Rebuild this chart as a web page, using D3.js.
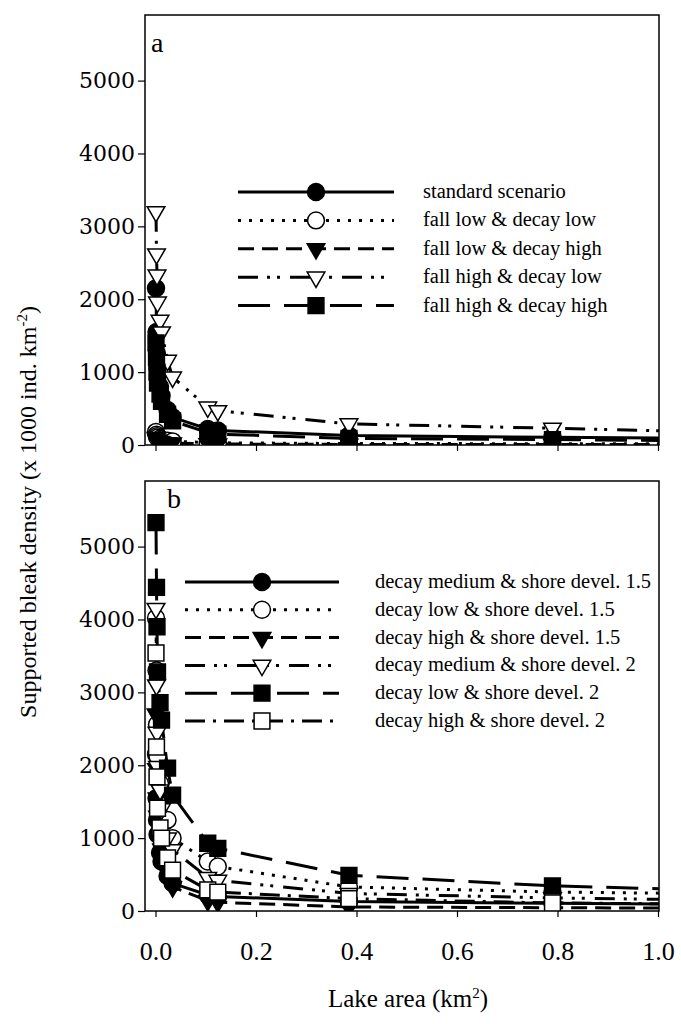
<!DOCTYPE html>
<html>
<head>
<meta charset="utf-8">
<script src="https://cdn.jsdelivr.net/npm/d3@7"></script>
<style>
body { margin: 0; background: #fff; }
</style>
</head>
<body>
<svg id="chart" width="681" height="1024"></svg>
<script>
// lake area (km2), same lakes in every scenario; the last one lies past the axis end
var lakeArea = [0.001, 0.002, 0.003, 0.004, 0.009, 0.012, 0.024, 0.034, 0.104, 0.124, 0.385, 0.79, 1.3];

// panel a
var namesA = ['standard scenario', 'fall low & decay low', 'fall low & decay high', 'fall high & decay low', 'fall high & decay high'];
var standard       = [2150, 1550, 1250, 1050, 800, 680, 480, 380, 220, 200, 130, 105, 80];
var fallLowDecLow  = [180, 140, 120, 100, 85, 75, 60, 50, 35, 30, 20, 18, 14];
var fallLowDecHigh = [100, 80, 65, 55, 45, 40, 30, 25, 15, 13, 8, 7, 5];
var fallHighDecLow = [3200, 2620, 2330, 1960, 1710, 1550, 1160, 930, 520, 470, 290, 230, 145];
var fallHighDecHigh= [1400, 1200, 1000, 850, 700, 600, 420, 330, 170, 150, 90, 75, 45];

// panel b
var namesB = ['decay medium & shore devel. 1.5', 'decay low & shore devel. 1.5', 'decay high & shore devel. 1.5',
              'decay medium & shore devel. 2', 'decay low & shore devel. 2', 'decay high & shore devel. 2'];
var decMedShore15  = [2150, 1550, 1250, 1050, 800, 680, 480, 380, 220, 200, 130, 105, 80];
var decLowShore15  = [4020, 3300, 2560, 2120, 1750, 1550, 1250, 1000, 680, 610, 330, 260, 224];
var decHighShore15 = [2700, 1950, 1550, 1300, 1000, 850, 520, 330, 140, 120, 55, 45, 33];
var decMedShore2   = [4150, 3100, 2450, 1980, 1660, 1400, 1000, 840, 460, 420, 240, 180, 131];
var decLowShore2   = [5330, 4440, 3900, 3280, 2860, 2620, 1960, 1590, 930, 860, 490, 345, 248];
var decHighShore2  = [3540, 2250, 1840, 1410, 1140, 1000, 730, 560, 290, 260, 170, 110, 85];

var xTicks = [0, 0.2, 0.4, 0.6, 0.8, 1.0];
var yTicks = [0, 1000, 2000, 3000, 4000, 5000];

// line styles and markers per legend row
var dashA = ['', '3,8', '16,8', '20,9,3,7,3,10', '32,14'];
var markA = ['circleF', 'circleO', 'triF', 'triO', 'sqF'];
var dashB = ['', '3,8', '16,8', '20,9,3,7,3,10', '32,14', '20,8,3,8'];
var markB = ['circleF', 'circleO', 'triF', 'triO', 'sqF', 'sqO'];

var serif = '"Liberation Serif", "Times New Roman", serif';

var svg = d3.select('#chart');

var xScale = d3.scaleLinear().domain([0, 1]).range([155.5, 658]);
var left = 145, right = 659;

function drawMarker(g, type, x, y) {
  var filled = type.slice(-1) == 'F';
  var shape;
  if (type.indexOf('circle') == 0) shape = d3.symbol().type(d3.symbolCircle).size(225);
  else if (type.indexOf('tri') == 0) shape = d3.symbol().type(d3.symbolTriangle).size(135);
  else shape = d3.symbol().type(d3.symbolSquare).size(250);
  var rot = type.indexOf('tri') == 0 ? ' rotate(180)' : '';
  g.append('path')
    .attr('d', shape())
    .attr('transform', 'translate(' + x + ',' + y + ')' + rot)
    .attr('fill', filled ? '#000' : '#fff')
    .attr('stroke', '#000')
    .attr('stroke-width', 1.5);
}

function dibujarPanel(opts) {
  var yScale = d3.scaleLinear().domain([0, 5900]).range([opts.bottom, opts.top]);
  var g = svg.append('g');

  var clipId = 'clip' + opts.label;
  svg.append('clipPath').attr('id', clipId)
    .append('rect').attr('x', left).attr('y', opts.top).attr('width', right - left).attr('height', opts.bottom - opts.top);

  // axes
  var yAxis = g.append('g')
    .attr('transform', 'translate(' + left + ',0)')
    .call(d3.axisLeft(yScale).tickValues(yTicks).tickSize(7).tickPadding(3).tickFormat(d3.format('d')));
  yAxis.select('.domain').remove();
  yAxis.selectAll('line').attr('stroke-width', 1.2);
  yAxis.selectAll('text').attr('font-family', '"DejaVu Serif", serif').attr('font-size', 22).attr('fill', '#000');

  var xAxis = g.append('g')
    .attr('transform', 'translate(0,' + opts.bottom + ')')
    .call(d3.axisBottom(xScale).tickValues(xTicks).tickSize(6).tickPadding(25).tickFormat(d3.format('.1f')));
  xAxis.select('.domain').remove();
  xAxis.selectAll('line').attr('stroke-width', 1.2);
  xAxis.selectAll('text').attr('font-family', serif).attr('font-size', 26).attr('fill', '#000');
  if (!opts.xLabels) xAxis.selectAll('text').remove();

  // frame
  g.append('rect')
    .attr('x', left).attr('y', opts.top)
    .attr('width', right - left).attr('height', opts.bottom - opts.top)
    .attr('fill', 'none').attr('stroke', '#000').attr('stroke-width', 1.5);

  // series
  var plot = g.append('g').attr('clip-path', 'url(#' + clipId + ')');
  var line = d3.line().x(function(d, i) { return xScale(lakeArea[i]); }).y(function(d) { return yScale(d); });
  opts.series.forEach(function(s, k) {
    plot.append('path')
      .datum(s)
      .attr('fill', 'none')
      .attr('stroke', '#000')
      .attr('stroke-width', 3)
      .attr('stroke-dasharray', opts.dash[k])
      .attr('d', line);
  });
  opts.series.forEach(function(s, k) {
    s.forEach(function(v, i) {
      if (lakeArea[i] <= 1) drawMarker(plot, opts.marks[k], xScale(lakeArea[i]), yScale(v));
    });
  });

  // legend
  var leg = g.append('g');
  opts.names.forEach(function(n, k) {
    var y = opts.legY + k * opts.legStep;
    leg.append('line')
      .attr('x1', opts.legX1).attr('x2', opts.legX2)
      .attr('y1', y).attr('y2', y)
      .attr('stroke', '#000').attr('stroke-width', 3)
      .attr('stroke-dasharray', opts.dash[k]);
    drawMarker(leg, opts.marks[k], (opts.legX1 + opts.legX2) / 2, y);
    leg.append('text')
      .attr('x', opts.legText).attr('y', y + 6)
      .attr('font-family', serif)
      .attr('font-size', 20.5)
      .text(n);
  });

  g.append('text')
    .attr('x', opts.labX).attr('y', opts.labY)
    .attr('font-family', serif)
    .attr('font-size', 28)
    .text(opts.label);
}

dibujarPanel({
  label: 'a', top: 15, bottom: 445, xLabels: false,
  series: [standard, fallLowDecLow, fallLowDecHigh, fallHighDecLow, fallHighDecHigh],
  names: namesA, dash: dashA, marks: markA,
  legX1: 238, legX2: 394, legText: 423, legY: 192, legStep: 28.4,
  labX: 151, labY: 52
});

dibujarPanel({
  label: 'b', top: 481, bottom: 911, xLabels: true,
  series: [decMedShore15, decLowShore15, decHighShore15, decMedShore2, decLowShore2, decHighShore2],
  names: namesB, dash: dashB, marks: markB,
  legX1: 185, legX2: 339, legText: 375, legY: 582, legStep: 27.8,
  labX: 167, labY: 508
});

// axis titles
svg.append('text')
  .attr('transform', 'translate(36,512) rotate(-90)')
  .attr('text-anchor', 'middle')
  .attr('font-family', serif)
  .attr('font-size', 24)
  .html('Supported bleak density (x 1000 ind. km<tspan dy="-9" font-size="15">-2</tspan><tspan dy="9">)</tspan>');

svg.append('text')
  .attr('x', 408).attr('y', 1007)
  .attr('text-anchor', 'middle')
  .attr('font-family', serif)
  .attr('font-size', 25)
  .html('Lake area (km<tspan dy="-9" font-size="15">2</tspan><tspan dy="9">)</tspan>');
</script>
</body>
</html>
